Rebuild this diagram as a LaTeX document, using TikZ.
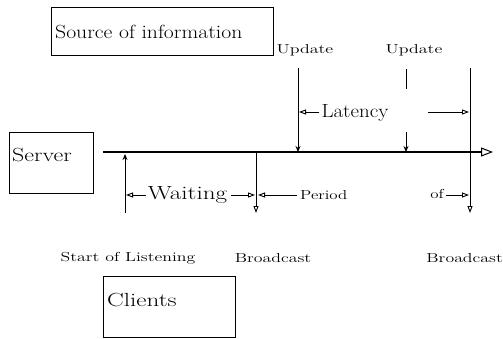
\documentclass[tikz,border=0pt]{standalone}
\usepackage{graphicx}
\usetikzlibrary{arrows.meta}
\newcommand\wide[2]{\scalebox{#1}[1]{#2}}
\tikzset{
  bigtxt/.style={inner sep=0pt, font=\fontsize{19}{21}\selectfont},
  smalltxt/.style={inner sep=0pt, font=\fontsize{13}{15}\selectfont},
  box/.style={draw, line width=0.9pt, inner sep=0pt},
  line/.style={line width=0.9pt},
  tipopen/.style={-{Triangle[open,length=7pt,width=5pt]}},
  tipaxis/.style={-{Stealth[length=6pt,width=5pt]}},
  axis/.style={line width=2.4pt, -{Triangle[open,length=12pt,width=9pt,line width=1pt]}},
}
\begin{document}
\begin{tikzpicture}[x=1pt,y=-1pt]
\useasboundingbox (0,0) rectangle (503,338);
% boxes
\node[box, anchor=north west, minimum width=222pt, minimum height=48pt] (srcbox) at (51,7) {};
\node[bigtxt, anchor=west] (srclbl) at (55,32) {\wide{1.14}{Source of information}};
\node[box, anchor=north west, minimum width=84pt, minimum height=61pt] (srvbox) at (9,132) {};
\node[bigtxt, anchor=west] (srvlbl) at (12,155) {\wide{1.26}{Server}};
\node[box, anchor=north west, minimum width=132pt, minimum height=61pt] (clibox) at (103,276) {};
\node[bigtxt, anchor=west] (clilbl) at (107,300) {\wide{1.32}{Clients}};
% coordinates
\coordinate (axA) at (103,152);
\coordinate (axB) at (493,152);
\coordinate (u1t) at (298,68);
\coordinate (u1b) at (298,152);
\coordinate (u2t) at (406,69);
\coordinate (u2m) at (406,89);
\coordinate (u2n) at (406,132);
\coordinate (u2b) at (406,152);
\coordinate (u3t) at (470,68);
\coordinate (u3b) at (470,213);
\coordinate (stb) at (125,213);
\coordinate (stt) at (125,154);
\coordinate (b1t) at (256,152);
\coordinate (b1b) at (256,213);
% axis
\draw[axis] (axA) -- (axB);
% update lines
\draw[line, tipaxis] (u1t) -- (u1b);
\draw[line] (u2t) -- (u2m);
\draw[line, tipaxis] (u2n) -- (u2b);
\draw[line, tipopen] (u3t) -- (u3b);
\draw[line, tipaxis] (stb) -- (stt);
\draw[line, tipopen] (b1t) -- (b1b);
% labels
\node[smalltxt] (upd1) at (305,50) {\wide{1.38}{Update}};
\node[smalltxt] (upd2) at (414,50) {\wide{1.38}{Update}};
\node[bigtxt] (lat) at (355,113) {\wide{1.1}{Latency}};
\node[bigtxt] (wait) at (187.5,195) {\wide{1.32}{Waiting}};
\node[smalltxt, anchor=west] (per) at (300,195) {\wide{1.3}{Period}};
\node[smalltxt] (of) at (437,194) {\wide{1.3}{of}};
\node[smalltxt] (sol) at (128,258) {\wide{1.37}{Start of Listening}};
\node[smalltxt] (bc1) at (273,258) {\wide{1.37}{Broadcast}};
\node[smalltxt, anchor=east] (bc2) at (503,258) {\wide{1.37}{Broadcast}};
% dimension arrows
\coordinate (latL) at (299,112);
\coordinate (latR) at (469,112);
\coordinate (latRs) at (428,112);
\coordinate (waitL) at (126,195);
\coordinate (waitR) at (255,195);
\coordinate (perL) at (258,195);
\coordinate (ofR) at (469,195);
\draw[line, tipopen] (lat.west) ++(-2,-1) -- (latL);
\draw[line, tipopen] (latRs) -- (latR);
\draw[line, tipopen] (wait.west) ++(-2,0) -- (waitL);
\draw[line, tipopen] (wait.east) ++(4,0) -- (waitR);
\draw[line, tipopen] (per.west) ++(-3,0) -- (perL);
\draw[line, tipopen] (of.east) ++(2,1) -- (ofR);
\end{tikzpicture}
\end{document}
